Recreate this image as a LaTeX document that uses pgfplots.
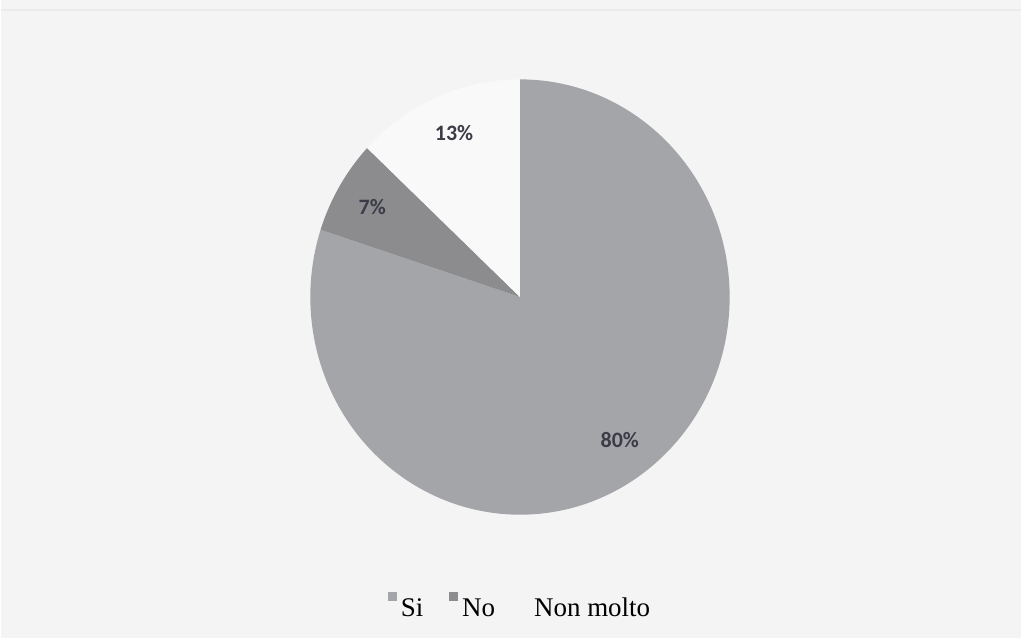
\documentclass[border=0pt]{standalone}
\usepackage{pgfplots}
\pgfplotsset{compat=1.18}
\usepackage{fontspec}
\setmainfont{Liberation Serif}
\newfontfamily\calibri{Carlito}

\definecolor{bgc}{RGB}{244,244,244}
\definecolor{gSi}{RGB}{164,165,168}
\definecolor{gNo}{RGB}{140,140,143}
\definecolor{gNm}{RGB}{249,249,249}
\definecolor{lab}{RGB}{60,60,72}

% valori (%)
\def\vSi{80}
\def\vNo{7}
\def\vNm{13}
\pgfmathsetmacro\aA{90-3.6*\vSi}
\pgfmathsetmacro\aB{\aA-3.6*\vNo}
\pgfmathsetmacro\aC{\aB-3.6*\vNm}

\begin{document}
\begin{tikzpicture}
\begin{axis}[
    scale only axis, width=511pt, height=319.5pt,
    xmin=0, xmax=1022, ymin=0, ymax=639,
    hide axis, clip=false,
    legend style={at={(axis cs:521,30)}, anchor=center, draw=none, fill=none,
        legend columns=-1, font=\fontsize{13.5}{15}\selectfont,
        /tikz/every even column/.append style={column sep=11pt},
        /tikz/every odd column/.append style={column sep=0pt}},
    legend image code/.code={\fill[#1] (0pt,4pt) rectangle (4.5pt,8.5pt);},
]
\fill[bgc] (axis cs:0,0) rectangle (axis cs:1022,639);
\draw[black!8, line width=0.8pt] (axis cs:0,629) -- (axis cs:1022,629);

\fill[gSi] (axis cs:520,341.5) -- ++(90:105pt and 109pt) arc[start angle=90, end angle=\aA, x radius=105pt, y radius=109pt] -- cycle;
\fill[gNo] (axis cs:520,341.5) -- ++(\aA:105pt and 109pt) arc[start angle=\aA, end angle=\aB, x radius=105pt, y radius=109pt] -- cycle;
\fill[gNm] (axis cs:520,341.5) -- ++(\aB:105pt and 109pt) arc[start angle=\aB, end angle=\aC, x radius=105pt, y radius=109pt] -- cycle;

\node[font=\calibri\bfseries\fontsize{11}{13}\selectfont, text=lab] at (axis cs:620,198) {80\%};
\node[font=\calibri\bfseries\fontsize{11}{13}\selectfont, text=lab] at (axis cs:372,432) {7\%};
\node[font=\calibri\bfseries\fontsize{11}{13}\selectfont, text=lab] at (axis cs:454,506) {13\%};

\addlegendimage{fill=gSi, draw=none}
\addlegendentry{Si}
\addlegendimage{fill=gNo, draw=none}
\addlegendentry{No}
\addlegendimage{fill=bgc, draw=none}
\addlegendentry{Non molto}
\end{axis}
\end{tikzpicture}
\end{document}
